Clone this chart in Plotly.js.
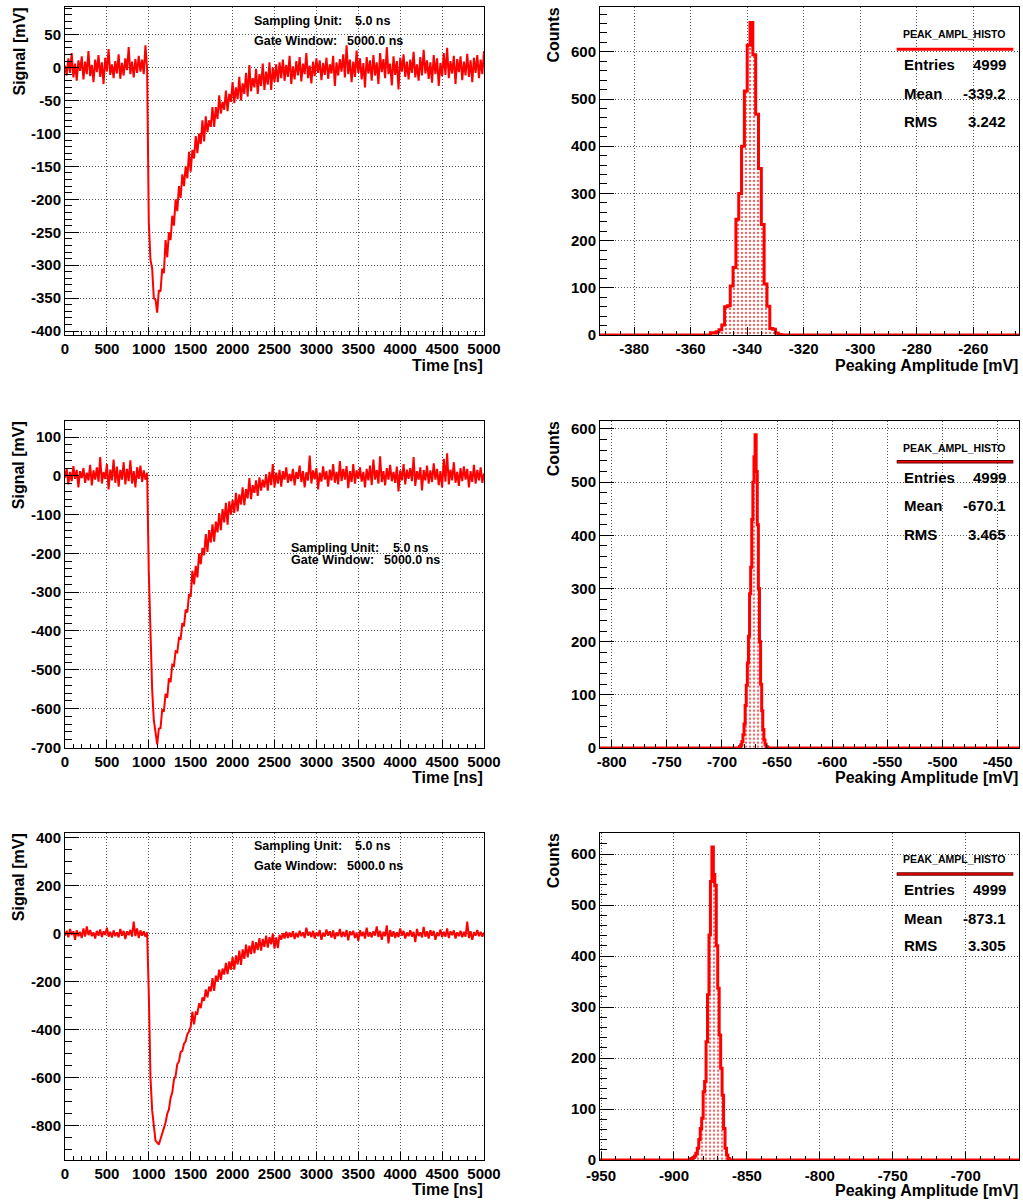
<!DOCTYPE html>
<html><head><meta charset="utf-8">
<script src="https://cdn.plot.ly/plotly-3.0.1.min.js"></script>
<style>html,body{margin:0;padding:0;background:#fff}#chart{width:1023px;height:1203px}</style>
</head><body><div id="chart"></div>
<script>
// ---------------- DATA ----------------
const sampleStartNs = 0;
const sampleStepNs = 20;   // plotted every 20 ns (Sampling Unit 5.0 ns)

const waveform1 = [
3, -12, 14, -8, 22, -15, 6, -20, 11, -5,
17, -18, 9, -10, 25, -13, 4, -22, 12, -7,
19, -14, 8, -25, 15, -6, 28, -11, 5, -16,
10, -9, 20, -17, 7, -12, 14, -4, 31, -10,
9, -15, 13, -8, 18, -6, 12, -10, 34, -3,
-235, -292, -305, -350, -352, -372, -338, -340, -305, -312,
-262, -288, -250, -262, -225, -240, -200, -218, -180, -198,
-162, -180, -150, -168, -128, -158, -125, -138, -104, -130,
-100, -116, -80, -112, -74, -98, -80, -90, -60, -90,
-60, -78, -42, -70, -52, -64, -35, -66, -40, -52,
-22, -54, -30, -48, -14, -50, -24, -40, -8, -44,
4, -36, -16, -30, -2, -40, -10, -28, 6, -34,
-6, -26, 8, -34, 0, -22,
5, -22, 8, -16, 12, -20, 4, -14, 18, -25,
2, -18, 10, -12, 16, -21, 6, -10, 22, -16,
3, -24, 9, -13, 14, -8, 11, -19, 7, -11,
15, -17, 5, -9, 18, -28, 8, -12, 13, -6,
20, -15, 34, -10, 12, -22, 9, -14, 26, -8,
14, -18, 7, -30, 16, -9, 11, -20, 19, -12,
8, -25, 22, -7, 13, -16, 31, -10, 6, -27,
17, -11, 10, -33, 15, -6, 20, -14, 9, -18,
12, -8, 24, -15, 5, -20, 16, -12, 27, -9,
11, -17, 8, -23, 19, -10, 14, -28, 7, -13,
22, -11, 30, -16, 10, -9, 18, -25, 13, -7,
17, -19, 9, -12, 21, -14, 11, -22, 15, -8,
19, -16, 12, -10, 25
];

const waveform2 = [
-5, 18, -22, 10, -14, 25, -8, 15, -30, 12,
-6, 20, -18, 8, -12, 28, -25, 14, -10, 22,
-15, 48, -20, 10, -8, 30, -35, 16, -12, 42,
-18, 24, -28, 15, -10, 35, -22, 18, -14, 40,
-20, 12, -30, 22, -8, 26, -16, 14, -10, 8,
-250, -430, -550, -630, -665, -692, -652, -650, -602, -608,
-562, -572, -522, -532, -487, -490, -452, -455, -418, -420,
-380, -388, -345, -352, -305, -312, -245, -280, -232, -262,
-200, -228, -186, -205, -150, -196, -140, -172, -125, -170,
-118, -146, -96, -140, -86, -120, -70, -126, -66, -100,
-62, -96, -44, -92, -48, -74, -30, -76, -34, -58,
-6, -60, -24, -44, -12, -52, -4, -38, -10, -30,
4, -38, 10, -24, 30, -30,
8, -20, 15, -28, 12, -10, 22, -18, 5, -14,
18, -25, 10, -8, 26, -16, 12, -30, 9, -12,
52, -20, 14, -9, 20, -35, 8, -15, 24, -10,
12, -28, 16, -12, 30, -18, 10, -22, 38, -14,
18, -10, 25, -32, 12, -16, 30, -20, 14, -8,
22, -15, 10, -30, 18, -12, 26, -24, 42, -10,
15, -20, 50, -16, 12, -25, 20, -10, 28, -14,
10, -18, 24, -40, 14, -12, 30, -22, 16, -8,
20, -14, 48, -26, 12, -10, 22, -38, 15, -12,
26, -20, 14, -16, 32, -10, 18, -24, 12, -30,
44, -15, 58, -22, 16, -12, 35, -18, 10, -26,
20, -14, 24, -10, 18, -30, 12, -16, 28, -20,
15, -12, 22, -18, 6
];

const waveform3 = [
-8, 12, -15, 20, -5, 10, -25, 14, -10, 8,
-18, 22, -12, 30, -6, 15, -10, 5, -20, 12,
-8, 18, -14, 10, -5, 25, -12, 8, -16, 14,
-10, 6, -15, 20, -8, 12, -22, 10, -6, 16,
-12, 50, -10, 22, -18, 14, -8, 10, -12, 6,
-250, -600, -735, -810, -862, -870, -878, -855, -836, -810,
-786, -750, -732, -684, -662, -608, -592, -543, -532, -493,
-488, -458, -448, -418, -408, -388, -325, -378, -328, -332,
-290, -310, -265, -280, -232, -265, -220, -240, -185, -238,
-175, -200, -150, -192, -145, -170, -122, -168, -115, -150,
-98, -150, -90, -128, -70, -130, -65, -105, -45, -98,
-50, -85, -30, -82, -35, -68, -18, -70, -22, -55,
-8, -58, -14, -44, 0, -62,
-15, -60, -5, -25, 2, -20, 8, -18, 5, -14,
10, -22, 4, -15, 12, -10, 6, -18, 25, -8,
8, -14, 12, -20, 5, -10, 15, -25, 4, -12,
18, -8, 10, -16, 14, -22, 6, -10, 20, -14,
8, -12, 15, -28, 10, -6, 12, -18, 5, -30,
14, -10, 8, -20, 25, -12, 6, -15, 10, -8,
30, -14, 12, -25, 8, -10, 35, -40, 15, -12,
10, -18, 6, -14, 22, -8, 12, -20, 5, -10,
14, -12, 8, -35, 20, -10, 6, -15, 28, -12,
10, -20, 15, -8, 12, -25, 5, -10, 18, -14,
8, -12, 22, -18, 10, -6, 14, -20, 6, -10,
12, -15, 8, -12, 50, -18, 10, -25, 6, -8,
15, -10, 8, -12, 5
];

// histograms of peaking amplitude (1 mV bins)
const hist1Range = [-392.1, -243.8];
const hist1Start = -353, hist1Width = 1;
const hist1Counts = [5, 4, 7, 11, 21, 60, 62, 104, 143, 245, 300, 400, 517, 614, 662, 594, 468, 353, 234, 108, 61, 14, 12, 4, 1];

const hist2Range = [-810.6, -430.7];
const hist2Start = -684, hist2Width = 1;
const hist2Counts = [3, 6, 12, 25, 45, 80, 118, 160, 210, 290, 340, 430, 500, 548, 589, 520, 420, 300, 200, 120, 70, 35, 15, 7, 3, 1];

const hist3Range = [-950.7, -663.5];
const hist3Start = -889, hist3Width = 1;
const hist3Counts = [2, 3, 5, 8, 13, 23, 40, 62, 82, 134, 154, 232, 324, 441, 546, 614, 560, 539, 420, 337, 245, 180, 127, 62, 23, 10, 3];

const histName = 'PEAK_AMPL_HISTO';
const statsEntries = ['4999', '4999', '4999'];
const statsMean = ['-339.2', '-670.1', '-873.1'];
const statsRMS = ['3.242', '3.465', '3.305'];
const samplingUnitText = '5.0 ns';
const gateWindowText = '5000.0 ns';

// axis tick values
const timeTicks = [0, 500, 1000, 1500, 2000, 2500, 3000, 3500, 4000, 4500, 5000];
const wave1Ticks = [-400, -350, -300, -250, -200, -150, -100, -50, 0, 50];
const wave2Ticks = [-700, -600, -500, -400, -300, -200, -100, 0, 100];
const wave3Ticks = [-800, -600, -400, -200, 0, 200, 400];
const countTicks = [0, 100, 200, 300, 400, 500, 600];
const hist1Ticks = [-380, -360, -340, -320, -300, -280, -260];
const hist2Ticks = [-800, -750, -700, -650, -600, -550, -500, -450];
const hist3Ticks = [-950, -900, -850, -800, -750, -700];

// ---------------- LAYOUT ----------------
const W = 1023, H = 1203;
const FONT = 'Liberation Sans, Arial, Helvetica, sans-serif';
const px = x => x / W;
const py = y => 1 - y / H;
const leftDom = [px(65), px(484)];
const rightDom = [px(600), px(1019)];
const rowsPx = [[7, 335], [420.7, 748], [832.7, 1160]];
const rowDom = rowsPx.map(r => [py(r[1]), py(r[0])]);

function axis(dom, anchor, range, ticks, minorDtick, isY) {
  return {
    domain: dom, anchor: anchor, range: range, autorange: false, fixedrange: true,
    showline: true, linecolor: 'black', linewidth: 1, mirror: true,
    ticks: 'inside', ticklen: isY ? 14 : 8, tickwidth: 1, tickcolor: 'black',
    tickmode: 'array', tickvals: ticks, ticktext: ticks.map(v => String(v)),
    tickfont: {family: FONT, size: 15, weight: 'bold', color: 'black'},
    showgrid: true, gridcolor: '#555555', griddash: '1px,2px', gridwidth: 1,
    zeroline: false,
    minor: {tickmode: 'linear', tick0: 0, dtick: minorDtick, ticks: 'inside',
            ticklen: isY ? 7 : 4, tickwidth: 1, tickcolor: 'black', showgrid: false}
  };
}

const waveRanges = [[-406, 92], [-701.6, 142], [-942.6, 420.8]];
const countRanges = [[0, 695], [0, 615.6], [0, 641.8]];
const waveTicks = [wave1Ticks, wave2Ticks, wave3Ticks];
const waveMinor = [10, 20, 50];
const histRanges = [hist1Range, hist2Range, hist3Range];
const histTicks = [hist1Ticks, hist2Ticks, hist3Ticks];
const histMinor = [5, 10, 10];
const histStarts = [hist1Start, hist2Start, hist3Start];
const histWidths = [hist1Width, hist2Width, hist3Width];
const histCounts = [hist1Counts, hist2Counts, hist3Counts];
const waves = [waveform1, waveform2, waveform3];

const layout = {
  width: W, height: H, margin: {l: 0, r: 0, t: 0, b: 0},
  paper_bgcolor: '#ffffff', plot_bgcolor: '#ffffff', showlegend: false,
  annotations: [], shapes: []
};
const traces = [];

function histXY(start, width, counts) {
  const x = [start], y = [0];
  counts.forEach((c, i) => { x.push(start + i * width); y.push(c); });
  x.push(start + counts.length * width); y.push(0);
  return {x, y};
}

for (let r = 0; r < 3; r++) {
  const wi = 2 * r + 1, hi = 2 * r + 2;
  const wx = 'x' + wi, wy = 'y' + wi, hx = 'x' + hi, hy = 'y' + hi;
  const wxKey = wi === 1 ? 'xaxis' : 'xaxis' + wi, wyKey = wi === 1 ? 'yaxis' : 'yaxis' + wi;
  layout[wxKey] = axis(leftDom, wy, [0, 5000], timeTicks, 100, false);
  layout[wyKey] = axis(rowDom[r], wx, waveRanges[r], waveTicks[r], waveMinor[r], true);
  layout['xaxis' + hi] = axis(rightDom, hy, histRanges[r], histTicks[r], histMinor[r], false);
  layout['yaxis' + hi] = axis(rowDom[r], hx, countRanges[r], countTicks, 20, true);

  traces.push({type: 'scatter', mode: 'lines', x0: sampleStartNs, dx: sampleStepNs, y: waves[r],
    line: {color: '#ff0000', width: 2}, xaxis: wx, yaxis: wy, hoverinfo: 'skip'});

  traces.push({type: 'scatter', mode: 'lines', x: histRanges[r], y: [0, 0],
    line: {color: '#ff0000', width: 3}, xaxis: hx, yaxis: hy, hoverinfo: 'skip'});
  const h = histXY(histStarts[r], histWidths[r], histCounts[r]);
  traces.push({type: 'scatter', mode: 'lines', x: h.x, y: h.y,
    line: {color: '#ff0000', width: 3, shape: 'hv'},
    fill: 'tozeroy', fillcolor: 'rgba(255,255,255,0)',
    fillpattern: {shape: '.', fgcolor: '#ff5a5a', bgcolor: '#ffffff', size: 4, solidity: 0.25},
    xaxis: hx, yaxis: hy, hoverinfo: 'skip'});
}
layout.xaxis6.ticklabelstandoff = 2;

function ann(text, x, y, o) {
  return Object.assign({text: text, x: px(x), y: py(y), xref: 'paper', yref: 'paper', showarrow: false,
    font: {family: FONT, size: 15, weight: 'bold', color: 'black'}, xanchor: 'left', yanchor: 'middle',
    borderpad: 0}, o || {});
}

const A = layout.annotations;
const titleTop = [7, 420.7, 832.7];
const xTitleY = [365, 777, 1189.5];
const statY = [[34.3, 49.3, 64.3, 93.3, 121], [447.7, 461.7, 477.3, 506, 534], [859.3, 874, 889.3, 918.3, 946]];
const infoPos = [[252.7, 20.7, 354, 41, 346], [290, 548.3, 391.7, 560, 383.3], [252.7, 845.7, 354, 865.7, 346]];
for (let r = 0; r < 3; r++) {
  A.push(ann('Signal [mV]', 18.5, titleTop[r], {textangle: -90, xanchor: 'center', yanchor: 'top', font: {family: FONT, size: 16, weight: 'bold', color: 'black'}}));
  A.push(ann('Counts', 553, titleTop[r], {textangle: -90, xanchor: 'center', yanchor: 'top', font: {family: FONT, size: 16, weight: 'bold', color: 'black'}}));
  A.push(ann('Time [ns]', 484, xTitleY[r], {xanchor: 'right', font: {family: FONT, size: 16, weight: 'bold', color: 'black'}}));
  A.push(ann('Peaking Amplitude [mV]', 1018.5, xTitleY[r] + 0.7, {xanchor: 'right', font: {family: FONT, size: 16, weight: 'bold', color: 'black'}}));
  const s = statY[r];
  A.push(ann(histName, 954.5, s[0], {xanchor: 'center', font: {family: FONT, size: 10.5, weight: 'bold', color: 'black'}}));
  A.push(ann('Entries', 902.7, s[2]));
  A.push(ann(statsEntries[r], 1007, s[2], {xanchor: 'right'}));
  A.push(ann('Mean', 902.7, s[3]));
  A.push(ann(statsMean[r], 1007, s[3], {xanchor: 'right'}));
  A.push(ann('RMS', 902.7, s[4]));
  A.push(ann(statsRMS[r], 1007, s[4], {xanchor: 'right'}));
  if (r > 0) {
    layout.shapes.push({type: 'line', xref: 'paper', yref: 'paper', x0: px(896.7), x1: px(1013.3), y0: py(s[1]), y1: py(s[1]),
      line: {color: '#5a0000', width: 3.5}});
    layout.shapes.push({type: 'line', xref: 'paper', yref: 'paper', x0: px(897.5), x1: px(1012.5), y0: py(s[1]), y1: py(s[1]),
      line: {color: '#ff0000', width: 1.5}});
  } else {
    layout.shapes.push({type: 'line', xref: 'paper', yref: 'paper', x0: px(896.7), x1: px(1013.3), y0: py(s[1]), y1: py(s[1]),
      line: {color: '#ff0000', width: 3}});
  }
  const ip = infoPos[r];
  const f12 = {family: FONT, size: 12.5, weight: 'bold', color: 'black'};
  A.push(ann('Sampling Unit:', ip[0], ip[1], {font: f12}));
  A.push(ann(samplingUnitText, ip[2], ip[1], {font: f12}));
  A.push(ann('Gate Window:', ip[0], ip[3], {font: f12}));
  A.push(ann(gateWindowText, ip[4], ip[3], {font: f12}));
}

Plotly.newPlot('chart', traces, layout, {staticPlot: true, displayModeBar: false});
</script></body></html>
